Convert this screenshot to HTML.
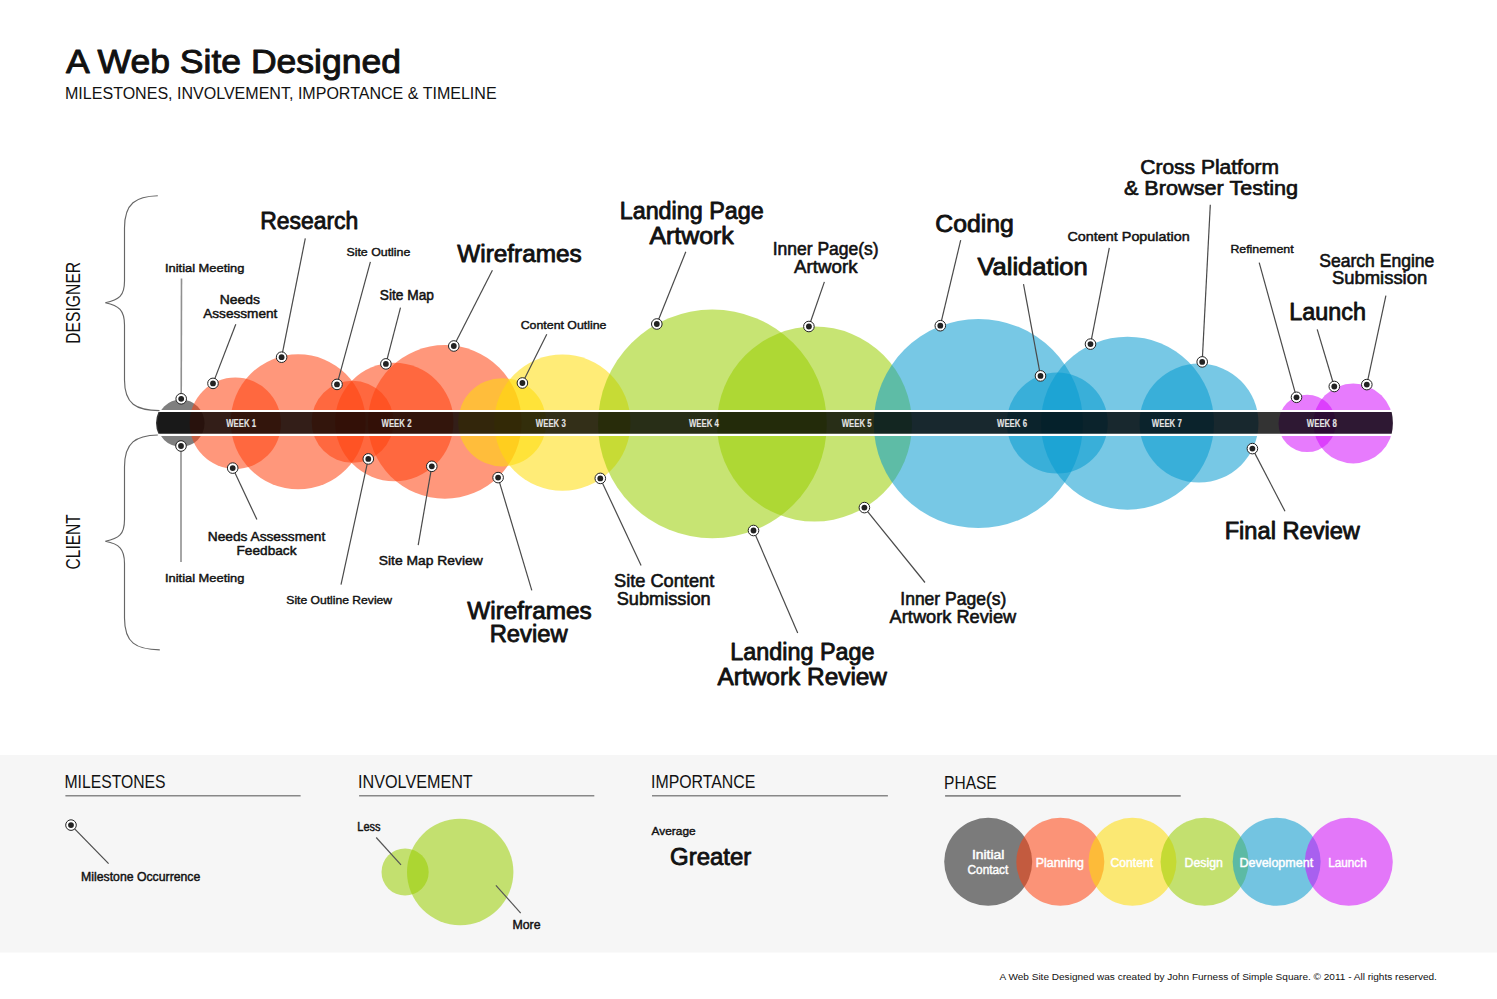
<!DOCTYPE html>
<html lang="en"><head><meta charset="utf-8"><title>A Web Site Designed</title>
<style>html,body{margin:0;padding:0;background:#fff}svg{display:block}text{font-family:"Liberation Sans",sans-serif}</style></head><body>
<svg width="1497" height="999" viewBox="0 0 1497 999">
<rect width="1497" height="999" fill="#fff"/>
<rect x="0" y="755" width="1497" height="197.5" fill="#f6f6f6"/>
<text transform="translate(80.2,343.8) rotate(-90)" font-size="19.6" fill="#111" textLength="82" lengthAdjust="spacingAndGlyphs">DESIGNER</text>
<text transform="translate(80.2,569.4) rotate(-90)" font-size="19.6" fill="#111" textLength="55.2" lengthAdjust="spacingAndGlyphs">CLIENT</text>
<g fill-opacity="0.55">
<circle cx="180.9" cy="423.2" r="23.7" fill="#000000" fill-opacity="0.5"/>
<circle cx="235.3" cy="423.2" r="45.7" fill="rgb(255,66,14)"/>
<circle cx="298.2" cy="421.8" r="67.5" fill="rgb(255,66,14)"/>
<circle cx="352.6" cy="421.8" r="41" fill="rgb(255,66,14)"/>
<circle cx="394.3" cy="422.0" r="59.2" fill="rgb(255,66,14)"/>
<circle cx="444.8" cy="421.9" r="76.8" fill="rgb(255,66,14)"/>
<circle cx="502.2" cy="422.3" r="44.1" fill="rgb(255,220,8)"/>
<circle cx="562.4" cy="422.6" r="68.1" fill="rgb(255,220,8)"/>
<circle cx="712.4" cy="423.9" r="114.4" fill="rgb(153,205,0)"/>
<circle cx="814.5" cy="424.0" r="97.5" fill="rgb(153,205,0)"/>
<circle cx="978.4" cy="423.5" r="104.6" fill="rgb(8,154,207)"/>
<circle cx="1057.3" cy="423.1" r="50.5" fill="rgb(8,154,207)"/>
<circle cx="1127.5" cy="423.2" r="86.5" fill="rgb(8,154,207)"/>
<circle cx="1199" cy="423.1" r="59.5" fill="rgb(8,154,207)"/>
<circle cx="1307.2" cy="423.4" r="28.7" fill="rgb(212,14,252)"/>
<circle cx="1353.2" cy="423.5" r="39.9" fill="rgb(212,14,252)"/>
<circle cx="405.1" cy="872" r="23.6" fill="rgb(153,205,0)"/>
<circle cx="460.2" cy="872" r="53.2" fill="rgb(153,205,0)"/>
<circle cx="988.2" cy="861.8" r="44" fill="#000000" fill-opacity="0.5"/>
<circle cx="1060.3200000000002" cy="861.8" r="44" fill="rgb(255,66,14)"/>
<circle cx="1132.44" cy="861.8" r="44" fill="rgb(255,220,8)"/>
<circle cx="1204.56" cy="861.8" r="44" fill="rgb(153,205,0)"/>
<circle cx="1276.68" cy="861.8" r="44" fill="rgb(8,154,207)"/>
<circle cx="1348.8000000000002" cy="861.8" r="44" fill="rgb(212,14,252)"/>
</g>
<path d="M157.6,411 L1392.6,411 Q1395.4,423 1392.6,434.8 L157.6,434.8 Q152.2,423 157.6,411 Z" fill="#000" fill-opacity="0.8" stroke="#fff" stroke-width="2.2"/>
<g fill="none" stroke="#666" stroke-width="1.15">
<path d="M157.8,195.7 C136,196.3 124.5,203 124.5,228 L124.5,281 C124.5,296 119,300 105.3,302.7 C119,305.5 124.5,310 124.5,325 L124.5,380 C124.5,404 136,410.4 159.5,410.6"/>
<path d="M157.8,435 C136,435.6 124.5,442 124.5,467 L124.5,519.5 C124.5,534.5 119,538.5 105.3,541.3 C119,544 124.5,548.5 124.5,563.5 L124.5,618 C124.5,643 136,649.5 159.8,649.9"/>
</g>
<line x1="65.4" y1="795.7" x2="300.6" y2="795.7" stroke="#888" stroke-width="1.6"/>
<line x1="359.1" y1="795.7" x2="594.3" y2="795.7" stroke="#888" stroke-width="1.6"/>
<line x1="652" y1="795.7" x2="887.9" y2="795.7" stroke="#888" stroke-width="1.6"/>
<line x1="945.1" y1="795.9" x2="1180.7" y2="795.9" stroke="#888" stroke-width="1.6"/>
<line x1="376.2" y1="837.5" x2="401" y2="864.8" stroke="#555" stroke-width="1.2"/>
<line x1="495.9" y1="885.4" x2="520.7" y2="913.2" stroke="#555" stroke-width="1.2"/>
<line x1="181.2" y1="398.8" x2="181.5" y2="278.5" stroke="#909090" stroke-width="1.6"/>
<line x1="181.0" y1="446.0" x2="181.0" y2="562.0" stroke="#909090" stroke-width="1.6"/>
<line x1="213" y1="383.4" x2="235.8" y2="324.3" stroke="#4a4a4a" stroke-width="1.2"/>
<line x1="281.6" y1="357.2" x2="305.3" y2="238.4" stroke="#4a4a4a" stroke-width="1.2"/>
<line x1="337" y1="384.4" x2="370.4" y2="261.8" stroke="#4a4a4a" stroke-width="1.2"/>
<line x1="385.9" y1="363.9" x2="400.5" y2="307.6" stroke="#4a4a4a" stroke-width="1.2"/>
<line x1="453.8" y1="346" x2="492.4" y2="270.2" stroke="#4a4a4a" stroke-width="1.2"/>
<line x1="522.4" y1="383" x2="546.8" y2="334.3" stroke="#4a4a4a" stroke-width="1.2"/>
<line x1="656.8" y1="324" x2="685.8" y2="251.8" stroke="#4a4a4a" stroke-width="1.2"/>
<line x1="808.9" y1="326.5" x2="824.4" y2="281.9" stroke="#4a4a4a" stroke-width="1.2"/>
<line x1="940.3" y1="325.7" x2="960.7" y2="240.1" stroke="#4a4a4a" stroke-width="1.2"/>
<line x1="1040.5" y1="375.9" x2="1023.5" y2="284.2" stroke="#4a4a4a" stroke-width="1.2"/>
<line x1="1090.5" y1="344.1" x2="1109.3" y2="247.8" stroke="#4a4a4a" stroke-width="1.2"/>
<line x1="1202.2" y1="361.9" x2="1210.3" y2="204.7" stroke="#4a4a4a" stroke-width="1.2"/>
<line x1="1296.5" y1="397.3" x2="1259.2" y2="262.7" stroke="#4a4a4a" stroke-width="1.2"/>
<line x1="1334.3" y1="386.5" x2="1317.2" y2="329.3" stroke="#4a4a4a" stroke-width="1.2"/>
<line x1="1366.8" y1="384.6" x2="1385.9" y2="295.7" stroke="#4a4a4a" stroke-width="1.2"/>
<line x1="232.7" y1="468.1" x2="256.9" y2="519.5" stroke="#4a4a4a" stroke-width="1.2"/>
<line x1="368.3" y1="458.9" x2="341" y2="584.6" stroke="#4a4a4a" stroke-width="1.2"/>
<line x1="431.8" y1="466.3" x2="418.2" y2="545.2" stroke="#4a4a4a" stroke-width="1.2"/>
<line x1="498.1" y1="477.6" x2="531.8" y2="590.3" stroke="#4a4a4a" stroke-width="1.2"/>
<line x1="600.3" y1="478.4" x2="641.1" y2="565.5" stroke="#4a4a4a" stroke-width="1.2"/>
<line x1="753.5" y1="530.5" x2="797.7" y2="633" stroke="#4a4a4a" stroke-width="1.2"/>
<line x1="864.4" y1="507.6" x2="925" y2="582.5" stroke="#4a4a4a" stroke-width="1.2"/>
<line x1="1252.4" y1="448.6" x2="1285" y2="511.3" stroke="#4a4a4a" stroke-width="1.2"/>
<line x1="71" y1="825.1" x2="108.6" y2="863.6" stroke="#4a4a4a" stroke-width="1.2"/>
<circle cx="181.2" cy="398.8" r="5.3" fill="#fff" stroke="#222" stroke-width="1"/><circle cx="181.2" cy="398.8" r="2.9" fill="#222"/>
<circle cx="181.0" cy="446.0" r="5.3" fill="#fff" stroke="#222" stroke-width="1"/><circle cx="181.0" cy="446.0" r="2.9" fill="#222"/>
<circle cx="213" cy="383.4" r="5.3" fill="#fff" stroke="#222" stroke-width="1"/><circle cx="213" cy="383.4" r="2.9" fill="#222"/>
<circle cx="281.6" cy="357.2" r="5.3" fill="#fff" stroke="#222" stroke-width="1"/><circle cx="281.6" cy="357.2" r="2.9" fill="#222"/>
<circle cx="337" cy="384.4" r="5.3" fill="#fff" stroke="#222" stroke-width="1"/><circle cx="337" cy="384.4" r="2.9" fill="#222"/>
<circle cx="385.9" cy="363.9" r="5.3" fill="#fff" stroke="#222" stroke-width="1"/><circle cx="385.9" cy="363.9" r="2.9" fill="#222"/>
<circle cx="453.8" cy="346" r="5.3" fill="#fff" stroke="#222" stroke-width="1"/><circle cx="453.8" cy="346" r="2.9" fill="#222"/>
<circle cx="522.4" cy="383" r="5.3" fill="#fff" stroke="#222" stroke-width="1"/><circle cx="522.4" cy="383" r="2.9" fill="#222"/>
<circle cx="656.8" cy="324" r="5.3" fill="#fff" stroke="#222" stroke-width="1"/><circle cx="656.8" cy="324" r="2.9" fill="#222"/>
<circle cx="808.9" cy="326.5" r="5.3" fill="#fff" stroke="#222" stroke-width="1"/><circle cx="808.9" cy="326.5" r="2.9" fill="#222"/>
<circle cx="940.3" cy="325.7" r="5.3" fill="#fff" stroke="#222" stroke-width="1"/><circle cx="940.3" cy="325.7" r="2.9" fill="#222"/>
<circle cx="1040.5" cy="375.9" r="5.3" fill="#fff" stroke="#222" stroke-width="1"/><circle cx="1040.5" cy="375.9" r="2.9" fill="#222"/>
<circle cx="1090.5" cy="344.1" r="5.3" fill="#fff" stroke="#222" stroke-width="1"/><circle cx="1090.5" cy="344.1" r="2.9" fill="#222"/>
<circle cx="1202.2" cy="361.9" r="5.3" fill="#fff" stroke="#222" stroke-width="1"/><circle cx="1202.2" cy="361.9" r="2.9" fill="#222"/>
<circle cx="1296.5" cy="397.3" r="5.3" fill="#fff" stroke="#222" stroke-width="1"/><circle cx="1296.5" cy="397.3" r="2.9" fill="#222"/>
<circle cx="1334.3" cy="386.5" r="5.3" fill="#fff" stroke="#222" stroke-width="1"/><circle cx="1334.3" cy="386.5" r="2.9" fill="#222"/>
<circle cx="1366.8" cy="384.6" r="5.3" fill="#fff" stroke="#222" stroke-width="1"/><circle cx="1366.8" cy="384.6" r="2.9" fill="#222"/>
<circle cx="232.7" cy="468.1" r="5.3" fill="#fff" stroke="#222" stroke-width="1"/><circle cx="232.7" cy="468.1" r="2.9" fill="#222"/>
<circle cx="368.3" cy="458.9" r="5.3" fill="#fff" stroke="#222" stroke-width="1"/><circle cx="368.3" cy="458.9" r="2.9" fill="#222"/>
<circle cx="431.8" cy="466.3" r="5.3" fill="#fff" stroke="#222" stroke-width="1"/><circle cx="431.8" cy="466.3" r="2.9" fill="#222"/>
<circle cx="498.1" cy="477.6" r="5.3" fill="#fff" stroke="#222" stroke-width="1"/><circle cx="498.1" cy="477.6" r="2.9" fill="#222"/>
<circle cx="600.3" cy="478.4" r="5.3" fill="#fff" stroke="#222" stroke-width="1"/><circle cx="600.3" cy="478.4" r="2.9" fill="#222"/>
<circle cx="753.5" cy="530.5" r="5.3" fill="#fff" stroke="#222" stroke-width="1"/><circle cx="753.5" cy="530.5" r="2.9" fill="#222"/>
<circle cx="864.4" cy="507.6" r="5.3" fill="#fff" stroke="#222" stroke-width="1"/><circle cx="864.4" cy="507.6" r="2.9" fill="#222"/>
<circle cx="1252.4" cy="448.6" r="5.3" fill="#fff" stroke="#222" stroke-width="1"/><circle cx="1252.4" cy="448.6" r="2.9" fill="#222"/>
<circle cx="71" cy="825.1" r="5.3" fill="#fff" stroke="#222" stroke-width="1"/><circle cx="71" cy="825.1" r="2.9" fill="#222"/>
<text x="66.0" y="73.3" font-size="32.8" fill="#111" textLength="335.0" lengthAdjust="spacingAndGlyphs" stroke="#111" stroke-width="0.95" stroke-linejoin="round">A Web Site Designed</text>
<text x="65.0" y="98.9" font-size="16.8" fill="#111" textLength="431.6" lengthAdjust="spacingAndGlyphs">MILESTONES, INVOLVEMENT, IMPORTANCE &amp; TIMELINE</text>
<text x="260.2" y="229.4" font-size="23.5" fill="#111" textLength="98.0" lengthAdjust="spacingAndGlyphs" stroke="#111" stroke-width="0.85" stroke-linejoin="round">Research</text>
<text x="165.0" y="271.8" font-size="11.6" fill="#111" textLength="79.4" lengthAdjust="spacingAndGlyphs" stroke="#111" stroke-width="0.42" stroke-linejoin="round">Initial Meeting</text>
<text x="219.8" y="303.8" font-size="13" fill="#111" textLength="40.1" lengthAdjust="spacingAndGlyphs" stroke="#111" stroke-width="0.47" stroke-linejoin="round">Needs</text>
<text x="203.2" y="317.7" font-size="13" fill="#111" textLength="74.2" lengthAdjust="spacingAndGlyphs" stroke="#111" stroke-width="0.47" stroke-linejoin="round">Assessment</text>
<text x="346.4" y="255.8" font-size="11.5" fill="#111" textLength="64.0" lengthAdjust="spacingAndGlyphs" stroke="#111" stroke-width="0.41" stroke-linejoin="round">Site Outline</text>
<text x="457.3" y="261.5" font-size="23.5" fill="#111" textLength="124.4" lengthAdjust="spacingAndGlyphs" stroke="#111" stroke-width="0.85" stroke-linejoin="round">Wireframes</text>
<text x="379.8" y="300.2" font-size="13.8" fill="#111" textLength="54.2" lengthAdjust="spacingAndGlyphs" stroke="#111" stroke-width="0.5" stroke-linejoin="round">Site Map</text>
<text x="520.7" y="328.6" font-size="11.5" fill="#111" textLength="85.8" lengthAdjust="spacingAndGlyphs" stroke="#111" stroke-width="0.41" stroke-linejoin="round">Content Outline</text>
<text x="619.7" y="219.4" font-size="23.5" fill="#111" textLength="144.0" lengthAdjust="spacingAndGlyphs" stroke="#111" stroke-width="0.85" stroke-linejoin="round">Landing Page</text>
<text x="649.4" y="243.5" font-size="23.5" fill="#111" textLength="84.4" lengthAdjust="spacingAndGlyphs" stroke="#111" stroke-width="0.85" stroke-linejoin="round">Artwork</text>
<text x="772.7" y="254.8" font-size="18.3" fill="#111" textLength="106.0" lengthAdjust="spacingAndGlyphs" stroke="#111" stroke-width="0.6" stroke-linejoin="round">Inner Page(s)</text>
<text x="794.1" y="272.6" font-size="18.3" fill="#111" textLength="63.4" lengthAdjust="spacingAndGlyphs" stroke="#111" stroke-width="0.6" stroke-linejoin="round">Artwork</text>
<text x="935.3" y="231.8" font-size="23.5" fill="#111" textLength="78.5" lengthAdjust="spacingAndGlyphs" stroke="#111" stroke-width="0.85" stroke-linejoin="round">Coding</text>
<text x="977.4" y="274.5" font-size="23.5" fill="#111" textLength="110.4" lengthAdjust="spacingAndGlyphs" stroke="#111" stroke-width="0.85" stroke-linejoin="round">Validation</text>
<text x="1140.3" y="173.6" font-size="20" fill="#111" textLength="138.8" lengthAdjust="spacingAndGlyphs" stroke="#111" stroke-width="0.66" stroke-linejoin="round">Cross Platform</text>
<text x="1123.9" y="194.9" font-size="20" fill="#111" textLength="174.2" lengthAdjust="spacingAndGlyphs" stroke="#111" stroke-width="0.66" stroke-linejoin="round">&amp; Browser Testing</text>
<text x="1067.5" y="241.3" font-size="13.2" fill="#111" textLength="122.2" lengthAdjust="spacingAndGlyphs" stroke="#111" stroke-width="0.48" stroke-linejoin="round">Content Population</text>
<text x="1230.4" y="252.9" font-size="11.7" fill="#111" textLength="63.2" lengthAdjust="spacingAndGlyphs" stroke="#111" stroke-width="0.42" stroke-linejoin="round">Refinement</text>
<text x="1319.2" y="266.7" font-size="18.3" fill="#111" textLength="115.2" lengthAdjust="spacingAndGlyphs" stroke="#111" stroke-width="0.6" stroke-linejoin="round">Search Engine</text>
<text x="1332.0" y="284.4" font-size="18.3" fill="#111" textLength="95.2" lengthAdjust="spacingAndGlyphs" stroke="#111" stroke-width="0.6" stroke-linejoin="round">Submission</text>
<text x="1289.3" y="319.5" font-size="23.5" fill="#111" textLength="76.6" lengthAdjust="spacingAndGlyphs" stroke="#111" stroke-width="0.85" stroke-linejoin="round">Launch</text>
<text x="165.0" y="581.9" font-size="11.6" fill="#111" textLength="79.4" lengthAdjust="spacingAndGlyphs" stroke="#111" stroke-width="0.42" stroke-linejoin="round">Initial Meeting</text>
<text x="207.8" y="540.8" font-size="13.5" fill="#111" textLength="117.4" lengthAdjust="spacingAndGlyphs" stroke="#111" stroke-width="0.49" stroke-linejoin="round">Needs Assessment</text>
<text x="236.5" y="554.5" font-size="13.5" fill="#111" textLength="60.0" lengthAdjust="spacingAndGlyphs" stroke="#111" stroke-width="0.49" stroke-linejoin="round">Feedback</text>
<text x="286.3" y="604" font-size="11.5" fill="#111" textLength="105.8" lengthAdjust="spacingAndGlyphs" stroke="#111" stroke-width="0.41" stroke-linejoin="round">Site Outline Review</text>
<text x="378.8" y="565.2" font-size="13.5" fill="#111" textLength="104.0" lengthAdjust="spacingAndGlyphs" stroke="#111" stroke-width="0.49" stroke-linejoin="round">Site Map Review</text>
<text x="467.3" y="618.7" font-size="23.5" fill="#111" textLength="124.4" lengthAdjust="spacingAndGlyphs" stroke="#111" stroke-width="0.85" stroke-linejoin="round">Wireframes</text>
<text x="489.7" y="642" font-size="23.5" fill="#111" textLength="78.0" lengthAdjust="spacingAndGlyphs" stroke="#111" stroke-width="0.85" stroke-linejoin="round">Review</text>
<text x="614.0" y="586.9" font-size="18.5" fill="#111" textLength="100.2" lengthAdjust="spacingAndGlyphs" stroke="#111" stroke-width="0.61" stroke-linejoin="round">Site Content</text>
<text x="616.7" y="604.6" font-size="18.5" fill="#111" textLength="94.0" lengthAdjust="spacingAndGlyphs" stroke="#111" stroke-width="0.61" stroke-linejoin="round">Submission</text>
<text x="730.3" y="660.3" font-size="23.5" fill="#111" textLength="144.2" lengthAdjust="spacingAndGlyphs" stroke="#111" stroke-width="0.85" stroke-linejoin="round">Landing Page</text>
<text x="717.6" y="684.7" font-size="23.5" fill="#111" textLength="169.4" lengthAdjust="spacingAndGlyphs" stroke="#111" stroke-width="0.85" stroke-linejoin="round">Artwork Review</text>
<text x="900.3" y="605.2" font-size="18.5" fill="#111" textLength="106.0" lengthAdjust="spacingAndGlyphs" stroke="#111" stroke-width="0.61" stroke-linejoin="round">Inner Page(s)</text>
<text x="889.6" y="622.6" font-size="18.5" fill="#111" textLength="126.6" lengthAdjust="spacingAndGlyphs" stroke="#111" stroke-width="0.61" stroke-linejoin="round">Artwork Review</text>
<text x="1224.7" y="538.7" font-size="23.5" fill="#111" textLength="135.2" lengthAdjust="spacingAndGlyphs" stroke="#111" stroke-width="0.85" stroke-linejoin="round">Final Review</text>
<text x="226.2" y="427.0" font-size="10" fill="#e4e4e4" textLength="30.0" lengthAdjust="spacingAndGlyphs" stroke="#e4e4e4" stroke-width="0.12" stroke-linejoin="round" font-weight="bold">WEEK 1</text>
<text x="381.5" y="427.0" font-size="10" fill="#e4e4e4" textLength="30.0" lengthAdjust="spacingAndGlyphs" stroke="#e4e4e4" stroke-width="0.12" stroke-linejoin="round" font-weight="bold">WEEK 2</text>
<text x="535.8" y="427.0" font-size="10" fill="#e4e4e4" textLength="30.0" lengthAdjust="spacingAndGlyphs" stroke="#e4e4e4" stroke-width="0.12" stroke-linejoin="round" font-weight="bold">WEEK 3</text>
<text x="688.9" y="427.0" font-size="10" fill="#e4e4e4" textLength="30.0" lengthAdjust="spacingAndGlyphs" stroke="#e4e4e4" stroke-width="0.12" stroke-linejoin="round" font-weight="bold">WEEK 4</text>
<text x="841.7" y="427.0" font-size="10" fill="#e4e4e4" textLength="30.0" lengthAdjust="spacingAndGlyphs" stroke="#e4e4e4" stroke-width="0.12" stroke-linejoin="round" font-weight="bold">WEEK 5</text>
<text x="997.0" y="427.0" font-size="10" fill="#e4e4e4" textLength="30.0" lengthAdjust="spacingAndGlyphs" stroke="#e4e4e4" stroke-width="0.12" stroke-linejoin="round" font-weight="bold">WEEK 6</text>
<text x="1151.8" y="427.0" font-size="10" fill="#e4e4e4" textLength="30.0" lengthAdjust="spacingAndGlyphs" stroke="#e4e4e4" stroke-width="0.12" stroke-linejoin="round" font-weight="bold">WEEK 7</text>
<text x="1306.8" y="427.0" font-size="10" fill="#e4e4e4" textLength="30.0" lengthAdjust="spacingAndGlyphs" stroke="#e4e4e4" stroke-width="0.12" stroke-linejoin="round" font-weight="bold">WEEK 8</text>
<text x="64.4" y="787.9" font-size="18" fill="#111" textLength="101.2" lengthAdjust="spacingAndGlyphs">MILESTONES</text>
<text x="358.1" y="787.9" font-size="18" fill="#111" textLength="114.6" lengthAdjust="spacingAndGlyphs">INVOLVEMENT</text>
<text x="651.0" y="787.7" font-size="18" fill="#111" textLength="104.4" lengthAdjust="spacingAndGlyphs">IMPORTANCE</text>
<text x="944.1" y="788.9" font-size="18" fill="#111" textLength="52.6" lengthAdjust="spacingAndGlyphs">PHASE</text>
<text x="81.1" y="880.7" font-size="12" fill="#111" textLength="119.2" lengthAdjust="spacingAndGlyphs" stroke="#111" stroke-width="0.43" stroke-linejoin="round">Milestone Occurrence</text>
<text x="357.3" y="830.6" font-size="12" fill="#111" textLength="23.2" lengthAdjust="spacingAndGlyphs" stroke="#111" stroke-width="0.43" stroke-linejoin="round">Less</text>
<text x="512.4" y="928.5" font-size="12" fill="#111" textLength="28.1" lengthAdjust="spacingAndGlyphs" stroke="#111" stroke-width="0.43" stroke-linejoin="round">More</text>
<text x="651.6" y="834.7" font-size="11.7" fill="#111" textLength="44.0" lengthAdjust="spacingAndGlyphs" stroke="#111" stroke-width="0.42" stroke-linejoin="round">Average</text>
<text x="670.1" y="864.6" font-size="23.7" fill="#111" textLength="81.2" lengthAdjust="spacingAndGlyphs" stroke="#111" stroke-width="0.85" stroke-linejoin="round">Greater</text>
<text x="999.5" y="979.8" font-size="9.6" fill="#111" textLength="437.4" lengthAdjust="spacingAndGlyphs">A Web Site Designed was created by John Furness of Simple Square. © 2011 - All rights reserved.</text>
<text x="971.9" y="859.2" font-size="12" fill="#ffffff" textLength="32.5" lengthAdjust="spacingAndGlyphs" stroke="#ffffff" stroke-width="0.43" stroke-linejoin="round">Initial</text>
<text x="967.5" y="874.2" font-size="12" fill="#ffffff" textLength="40.8" lengthAdjust="spacingAndGlyphs" stroke="#ffffff" stroke-width="0.43" stroke-linejoin="round">Contact</text>
<text x="1035.8" y="867.2" font-size="12" fill="#ffffff" textLength="48.2" lengthAdjust="spacingAndGlyphs" stroke="#ffffff" stroke-width="0.43" stroke-linejoin="round">Planning</text>
<text x="1110.5" y="867.2" font-size="12" fill="#ffffff" textLength="42.6" lengthAdjust="spacingAndGlyphs" stroke="#ffffff" stroke-width="0.43" stroke-linejoin="round">Content</text>
<text x="1184.5" y="867.2" font-size="12" fill="#ffffff" textLength="38.4" lengthAdjust="spacingAndGlyphs" stroke="#ffffff" stroke-width="0.43" stroke-linejoin="round">Design</text>
<text x="1239.4" y="867.2" font-size="12" fill="#ffffff" textLength="73.8" lengthAdjust="spacingAndGlyphs" stroke="#ffffff" stroke-width="0.43" stroke-linejoin="round">Development</text>
<text x="1328.2" y="867.2" font-size="12" fill="#ffffff" textLength="38.6" lengthAdjust="spacingAndGlyphs" stroke="#ffffff" stroke-width="0.43" stroke-linejoin="round">Launch</text>
</svg></body></html>
